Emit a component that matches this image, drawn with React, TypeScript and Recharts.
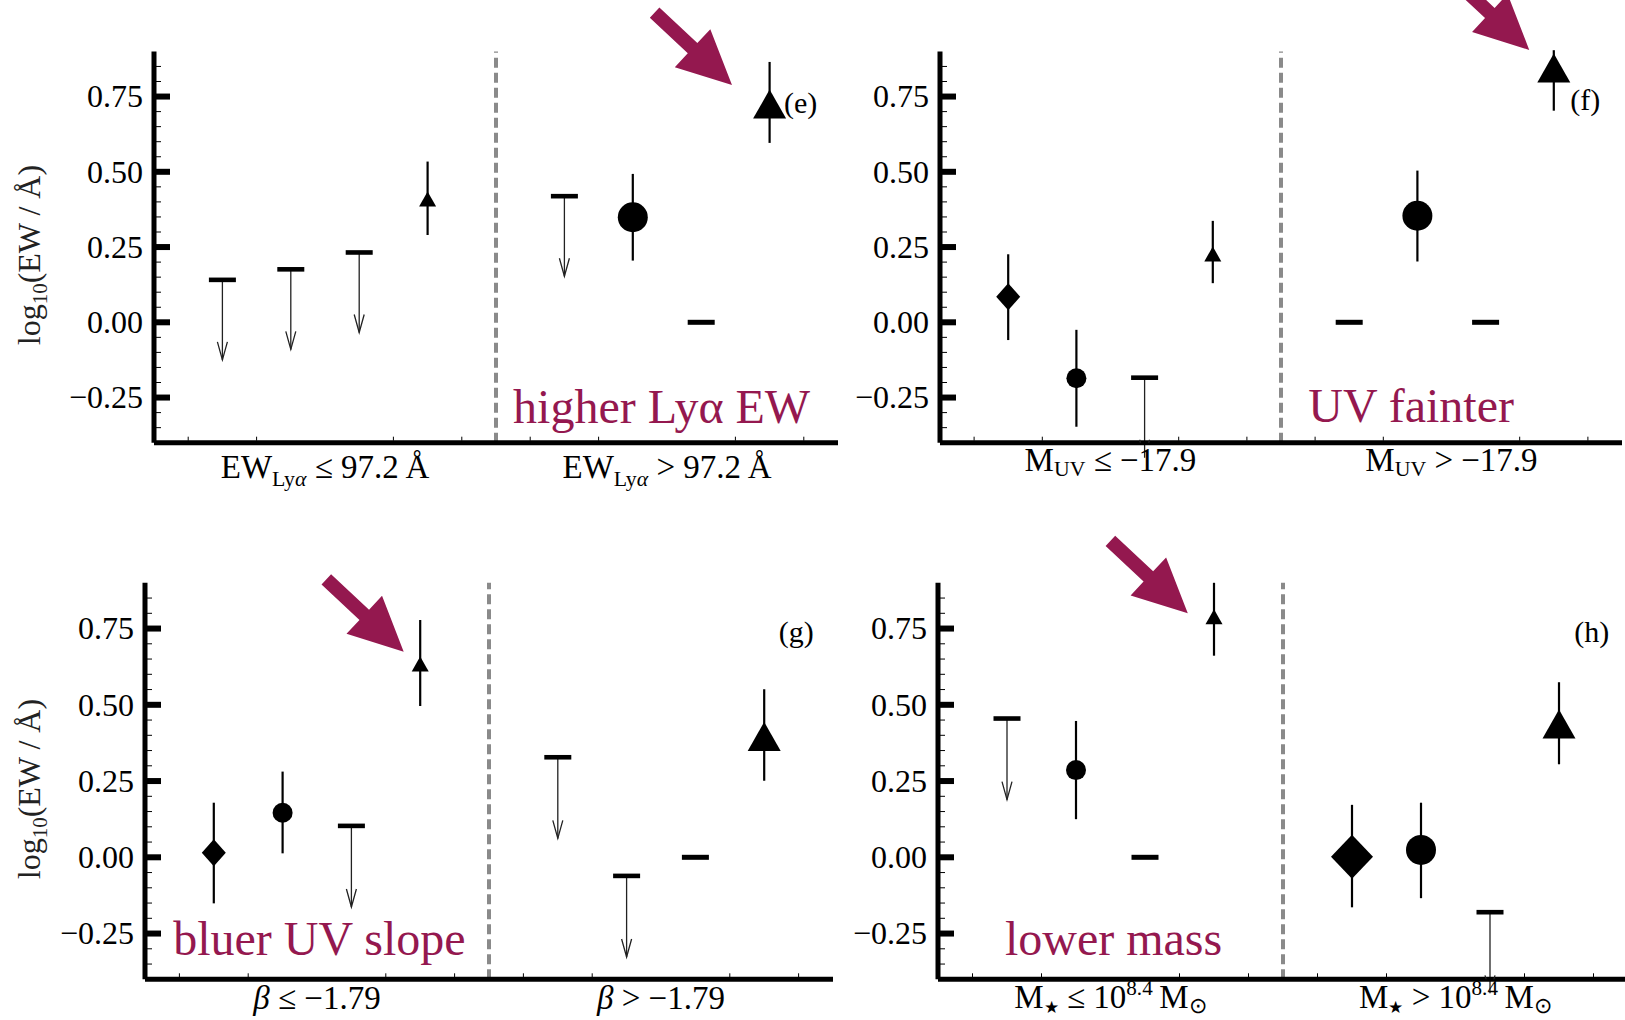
import React from 'react';
import {
  ScatterChart,
  Scatter,
  XAxis,
  YAxis,
  ErrorBar,
  ReferenceLine,
  ReferenceDot,
  Label,
} from 'recharts';

const PURPLE = '#94184f';
const SERIF = '"Liberation Serif", "Times New Roman", serif';

// four bins either side of the split at x = 5
const slots = [1, 2, 3, 4, 6, 7, 8, 9];

// (e) split by Lya equivalent width
const kindsE = ['limit', 'limit', 'limit', 'tri', 'limit', 'circleL', 'dash', 'triL'];
const valsE = [0.141, 0.176, 0.232, 0.41, 0.419, 0.349, 0, 0.725];
const lowE = [null, null, null, 0.29, null, 0.205, null, 0.596];
const highE = [null, null, null, 0.534, null, 0.493, null, 0.865];

// (f) split by UV magnitude
const kindsF = ['diamond', 'circle', 'limit', 'tri', 'dash', 'circleL', 'dash', 'triL'];
const valsF = [0.085, -0.186, -0.184, 0.227, 0, 0.354, 0, 0.845];
const lowF = [-0.059, -0.347, null, 0.13, null, 0.202, null, 0.703];
const highF = [0.226, -0.025, null, 0.337, null, 0.504, null, 0.904];

// (g) split by UV slope
const kindsG = ['diamond', 'circle', 'limit', 'tri', 'limit', 'limit', 'dash', 'triL'];
const valsG = [0.015, 0.146, 0.103, 0.634, 0.328, -0.061, 0, 0.396];
const lowG = [-0.151, 0.013, null, 0.496, null, null, null, 0.251];
const highG = [0.179, 0.281, null, 0.778, null, null, null, 0.551];

// (h) split by stellar mass
const kindsH = ['limit', 'circle', 'dash', 'tri', 'diamondL', 'circleL', 'limit', 'triL'];
const valsH = [0.455, 0.286, 0, 0.789, 0.002, 0.024, -0.18, 0.437];
const lowH = [null, 0.125, null, 0.661, -0.164, -0.134, null, 0.305];
const highH = [null, 0.447, null, 0.9, 0.172, 0.179, null, 0.574];

// length of the upper-limit arrows, in log units
const ARROW_DROP = 0.266;

const yTicks = [
  -0.35, -0.3, -0.25, -0.2, -0.15, -0.1, -0.05, 0, 0.05, 0.1, 0.15, 0.2, 0.25, 0.3,
  0.35, 0.4, 0.45, 0.5, 0.55, 0.6, 0.65, 0.7, 0.75, 0.8, 0.85,
];
const yMajor = [-0.25, 0, 0.25, 0.5, 0.75];
const yMajorLabels = ['\u22120.25', '0.00', '0.25', '0.50', '0.75'];

const xTicks = [0.5, 1.5, 2.5, 3.5, 4.5, 5.5, 6.5, 7.5, 8.5, 9.5];
const catTicks = [2.5, 7.5];

// bin labels, written as runs of text (sub / sup / italic)
const catE = [
  [{ t: 'EW' }, { t: 'Ly', sub: true }, { t: '\u03b1', sub: true, it: true }, { t: ' \u2264 97.2\u2009\u00c5' }],
  [{ t: 'EW' }, { t: 'Ly', sub: true }, { t: '\u03b1', sub: true, it: true }, { t: ' > 97.2\u2009\u00c5' }],
];
const catF = [
  [{ t: 'M' }, { t: 'UV', sub: true, low: true }, { t: ' \u2264 \u221217.9' }],
  [{ t: 'M' }, { t: 'UV', sub: true, low: true }, { t: ' > \u221217.9' }],
];
const catG = [
  [{ t: '\u03b2', it: true }, { t: ' \u2264 \u22121.79' }],
  [{ t: '\u03b2', it: true }, { t: ' > \u22121.79' }],
];
const catH = [
  [{ t: 'M' }, { t: '\u2605', sub: true, low: true, tiny: true }, { t: ' \u2264 10' }, { t: '8.4', sup: true }, { t: '\u2009M' }, { t: '\u2299', sub: true, low: true }],
  [{ t: 'M' }, { t: '\u2605', sub: true, low: true, tiny: true }, { t: ' > 10' }, { t: '8.4', sup: true }, { t: '\u2009M' }, { t: '\u2299', sub: true, low: true }],
];

const MARKERS: any = {
  circle: { r: 10 },
  circleL: { r: 15 },
  tri: { w: 17, h: 15 },
  triL: { w: 33, h: 29 },
  diamond: { w: 24, h: 27 },
  diamondL: { w: 42, h: 44 },
};

function buildPoints(kinds: string[], vals: number[], low: any[], high: any[]) {
  return slots.map((x, i) => ({
    x,
    y: vals[i],
    kind: kinds[i],
    err: low[i] == null ? undefined : [vals[i] - low[i], high[i] - vals[i]],
  }));
}

function RichText({ x, y, parts, size }: any) {
  let shift = 0;
  const spans = parts.map((p: any, i: number) => {
    let target = 0;
    let fs = size;
    if (p.sub) {
      target = p.low ? size * 0.15 : size * 0.25;
      fs = size * (p.tiny ? 0.5 : 0.66);
    } else if (p.sup) {
      target = -size * 0.4;
      fs = size * 0.64;
    }
    const dy = target - shift;
    shift = target;
    return (
      <tspan key={i} dy={dy} fontSize={fs} fontStyle={p.it ? 'italic' : 'normal'}>
        {p.t}
      </tspan>
    );
  });
  return (
    <text x={x} y={y} textAnchor="middle" fontFamily={SERIF} fontSize={size} fill="#000">
      {spans}
    </text>
  );
}

function MeasuredShape(props: any) {
  const { cx, cy } = props;
  const kind = props.payload?.kind ?? props.kind;
  const m = MARKERS[kind];
  if (kind.startsWith('circle')) return <circle cx={cx} cy={cy} r={m.r} fill="#000" />;
  if (kind.startsWith('tri')) {
    const pts = `${cx},${cy - m.h / 2} ${cx + m.w / 2},${cy + m.h / 2} ${cx - m.w / 2},${cy + m.h / 2}`;
    return <polygon points={pts} fill="#000" />;
  }
  const pts = `${cx},${cy - m.h / 2} ${cx + m.w / 2},${cy} ${cx},${cy + m.h / 2} ${cx - m.w / 2},${cy}`;
  return <polygon points={pts} fill="#000" />;
}

const LimitBar = ({ cx, cy }: any) => <rect x={cx - 13.5} y={cy - 2.3} width={27} height={4.6} fill="#000" />;
const DashBar = ({ cx, cy }: any) => <rect x={cx - 13.5} y={cy - 2.5} width={27} height={5} fill="#000" />;
const ArrowHead = ({ cx, cy }: any) => (
  <polyline
    points={`${cx - 5},${cy - 18} ${cx},${cy} ${cx + 5},${cy - 18}`}
    fill="none"
    stroke="#222"
    strokeWidth={1.3}
  />
);

// thick purple pointer, tip at the reference point
const DIR = [0.73, 0.683];
const NRM = [-0.683, 0.73];
function BlockArrow({ cx, cy }: any) {
  const pt = (a: number, b: number) => `${cx - DIR[0] * a + NRM[0] * b},${cy - DIR[1] * a + NRM[1] * b}`;
  const pts = [pt(0, 0), pt(54, 26), pt(54, 7), pt(106, 7), pt(106, -7), pt(54, -7), pt(54, -26)].join(' ');
  return <polygon points={pts} fill={PURPLE} />;
}

const renderYTick = (props: any) => {
  const { x, y, payload } = props;
  const v = payload.value;
  const mi = yMajor.findIndex((m) => Math.abs(m - v) < 1e-6);
  if (mi < 0) return <line x1={x} x2={x + 7} y1={y} y2={y} stroke="#000" strokeWidth={1} />;
  return (
    <g>
      <rect x={x} y={y - 3} width={16} height={6} fill="#000" />
      <text x={x - 11} y={y} dy="0.34em" textAnchor="end" fontFamily={SERIF} fontSize={32} fill="#000">
        {yMajorLabels[mi]}
      </text>
    </g>
  );
};

const makeXTick = (cats: any[], labelDy: number) => (props: any) => {
  const { x, y, payload } = props;
  const ci = catTicks.indexOf(payload.value);
  if (ci >= 0) return <RichText x={x} y={y + labelDy} parts={cats[ci]} size={33} />;
  return <line x1={x} x2={x} y1={y - 2} y2={y - 6} stroke="#000" strokeWidth={1} />;
};

const renderYTitle = (props: any) => {
  const vb = props.viewBox || { x: 0, y: 0, width: 0, height: 0 };
  const cy = vb.y + vb.height / 2 + 8;
  const x = vb.x + 40;
  return (
    <text x={x} y={cy} transform={`rotate(-90 ${x} ${cy})`} textAnchor="middle" fontFamily={SERIF} fontSize={32} fill="#222">
      log<tspan fontSize={21} dy={7}>10</tspan>
      <tspan dy={-7}>(EW / {'\u00c5'})</tspan>
    </text>
  );
};

const PANELS = [
  {
    id: 'e', kinds: kindsE, vals: valsE, low: lowE, high: highE, cats: catE, title: true,
    arrow: { x: 8.45, y: 0.788 }, note: { x: 5.25, y: -0.334, text: 'higher Ly\u03b1 EW' }, tag: { x: 9.21, y: 0.725, text: '(e)' },
    box: { left: 0, top: 0, width: 850, height: 500 }, yW: 154, xH: 50, labelDy: 35,
    margin: { top: 51.4, right: 12, left: 0, bottom: 7.3 },
  },
  {
    id: 'f', kinds: kindsF, vals: valsF, low: lowF, high: highF, cats: catF, title: false,
    arrow: { x: 8.64, y: 0.905 }, note: { x: 5.4, y: -0.331, text: 'UV fainter' }, tag: { x: 9.24, y: 0.735, text: '(f)' },
    box: { left: 800, top: 0, width: 825, height: 500 }, yW: 140, xH: 50, labelDy: 28,
    margin: { top: 51.4, right: 3, left: 0, bottom: 7.3 },
  },
  {
    id: 'g', kinds: kindsG, vals: valsG, low: lowG, high: highG, cats: catG, title: true,
    arrow: { x: 3.76, y: 0.674 }, note: { x: 0.41, y: -0.319, text: 'bluer UV slope' }, tag: { x: 9.21, y: 0.735, text: '(g)' },
    box: { left: 0, top: 520, width: 850, height: 500 }, yW: 145, xH: 35, labelDy: 30,
    margin: { top: 62.8, right: 17, left: 0, bottom: 5.7 },
  },
  {
    id: 'h', kinds: kindsH, vals: valsH, low: lowH, high: highH, cats: catH, title: false,
    arrow: { x: 3.62, y: 0.8 }, note: { x: 0.97, y: -0.319, text: 'lower mass' }, tag: { x: 9.22, y: 0.735, text: '(h)' },
    box: { left: 800, top: 520, width: 830, height: 500 }, yW: 138, xH: 35, labelDy: 29,
    margin: { top: 62.8, right: 2, left: 0, bottom: 5.7 },
  },
];

function Panel(p: any) {
  const pts = buildPoints(p.kinds, p.vals, p.low, p.high);
  const measured = pts.filter((d) => d.err);
  const limits = pts.filter((d) => d.kind === 'limit').map((d) => ({ ...d, drop: [ARROW_DROP, 0] }));
  const heads = limits.map((d) => ({ x: d.x, y: d.y - ARROW_DROP }));
  const dashes = pts.filter((d) => d.kind === 'dash');

  return (
    <div style={{ position: 'absolute', left: p.box.left, top: p.box.top }}>
      <ScatterChart width={p.box.width} height={p.box.height} margin={p.margin}>
        <XAxis
          type="number"
          dataKey="x"
          domain={[0, 10]}
          ticks={xTicks}
          interval={0}
          tickSize={0}
          tickMargin={0}
          tickLine={false}
          axisLine={{ stroke: '#000', strokeWidth: 5 }}
          tick={makeXTick(p.cats, p.labelDy)}
          height={p.xH}
          allowDataOverflow
        />
        <YAxis
          type="number"
          dataKey="y"
          domain={[-0.4, 0.9]}
          ticks={yTicks}
          interval={0}
          tickSize={0}
          tickMargin={0}
          tickLine={false}
          axisLine={{ stroke: '#000', strokeWidth: 5 }}
          tick={renderYTick}
          width={p.yW}
          allowDataOverflow
        >
          {p.title && <Label content={renderYTitle} />}
        </YAxis>
        <ReferenceLine x={5} stroke="#8a8a8a" strokeWidth={4} strokeDasharray="10 5" />
        <Scatter data={limits} shape={LimitBar} isAnimationActive={false}>
          <ErrorBar dataKey="drop" direction="y" width={0} stroke="#222" strokeWidth={1.3} isAnimationActive={false} />
        </Scatter>
        <Scatter data={heads} shape={ArrowHead} isAnimationActive={false} />
        <Scatter data={dashes} shape={DashBar} isAnimationActive={false} />
        <Scatter data={measured} shape={MeasuredShape} isAnimationActive={false}>
          <ErrorBar dataKey="err" direction="y" width={0} stroke="#000" strokeWidth={2.2} isAnimationActive={false} />
        </Scatter>
        <ReferenceDot x={p.arrow.x} y={p.arrow.y} ifOverflow="visible" shape={BlockArrow} />
        <ReferenceDot
          x={p.note.x}
          y={p.note.y}
          ifOverflow="visible"
          shape={({ cx, cy }: any) => (
            <text x={cx} y={cy} fontFamily={SERIF} fontSize={48} fill={PURPLE}>
              {p.note.text}
            </text>
          )}
        />
        <ReferenceDot
          x={p.tag.x}
          y={p.tag.y}
          ifOverflow="visible"
          shape={({ cx, cy }: any) => (
            <text x={cx} y={cy} dy="0.3em" fontFamily={SERIF} fontSize={30} fill="#000">
              {p.tag.text}
            </text>
          )}
        />
      </ScatterChart>
    </div>
  );
}

export default function App() {
  return (
    <div
      style={{
        position: 'absolute',
        left: 0,
        top: 0,
        width: 1625,
        height: 1020,
        overflow: 'hidden',
        background: '#fff',
      }}
    >
      {PANELS.map((p) => (
        <Panel key={p.id} {...p} />
      ))}
    </div>
  );
}
